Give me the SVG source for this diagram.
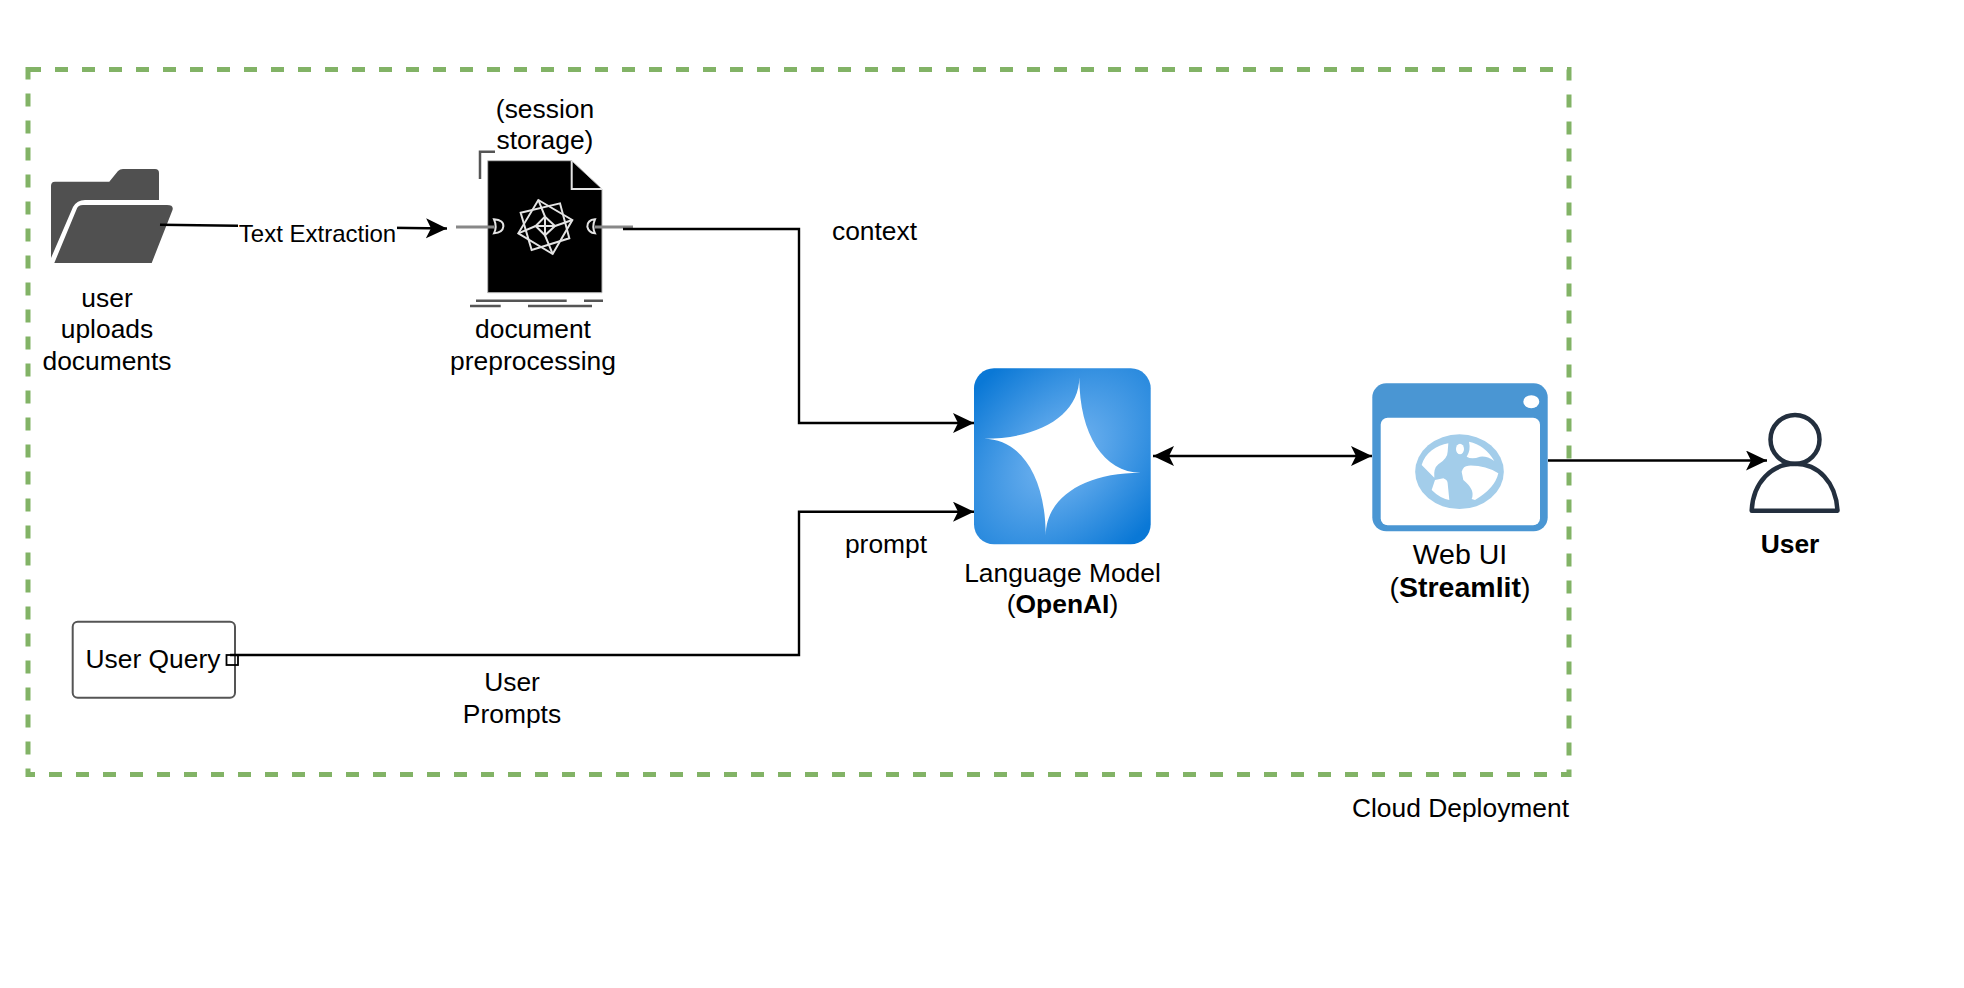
<svg xmlns="http://www.w3.org/2000/svg" width="1964" height="988" viewBox="0 0 1964 988">
<style>
text{font-family:"Liberation Sans",Arial,sans-serif;font-size:26.4px;fill:#000;text-anchor:middle}
.b{font-weight:700}
.c{fill:none;stroke:#000;stroke-width:2.4}
.g{fill:none;stroke:#555;stroke-width:2.5}
.w{fill:none;stroke:#e4e4e4;stroke-width:2}
</style>
<defs>
<marker id="a" markerUnits="userSpaceOnUse" markerWidth="24" markerHeight="22" refX="21" refY="10" orient="auto-start-reverse" viewBox="0 0 24 22"><path d="M0 0L21 10L0 20L5 10Z" fill="#000"/></marker>
<radialGradient id="lm" cx="0.5" cy="0.5" r="0.62" gradientTransform="translate(.5 .5) rotate(-45) scale(1.5 1) translate(-.5 -.5)"><stop offset="0" stop-color="#7ab8f2"/><stop offset="1" stop-color="#0a78d6"/></radialGradient>
</defs>
<rect id="cloud-boundary" x="28" y="69.5" width="1541" height="705" fill="none" stroke="#82b366" stroke-width="5" stroke-dasharray="13 14"/>
<text x="1569" y="817" style="text-anchor:end">Cloud Deployment</text>
<g id="folder">
<path d="M55 181.7H109.3L118 171Q120 169 123 169H155Q159 169 159 173V200H85Q77 200 73 207L51 258V186Q51 181.7 55 181.7Z" fill="#505050"/>
<path d="M83 205H167Q174 205 172.5 210L151.7 263H54.3L76.7 209Q78 205 83 205Z" fill="#505050"/>
<text x="107" y="307">user</text><text x="107" y="338">uploads</text><text x="107" y="369.5">documents</text>
</g>
<g id="preprocessing">
<path class="g" d="M480 179V151.7H495"/>
<path d="M487.7 160.7H571.7L602 189V292.7H487.7Z" fill="#000" stroke="#bbb" stroke-width="1"/>
<path d="M571.7 160.7V189H602" fill="none" stroke="#e4e4e4" stroke-width="2"/>
<path d="M456 227H494" fill="none" stroke="#888" stroke-width="3"/>
<path d="M633 227H595" fill="none" stroke="#888" stroke-width="3"/>
<g class="w" transform="translate(480 180) scale(.3333)" style="stroke-width:6">
<path d="M42 118Q72 120 70 140Q68 158 42 160Q52 140 42 118Z"/>
<path d="M345 118Q322 120 322 140Q326 158 345 160Q335 140 345 118Z"/>
<path d="M175 60L277 120L218 222L115 160Z"/>
<path d="M122 98L240 70L268 175L155 210Z"/>
<path d="M175 60L195 110M277 120L225 138M218 222L195 166M115 160L167 138"/>
<path d="M195 110L225 138L195 166L167 138ZM195 110V166M167 138H225"/>
</g>
<path class="g" d="M476 300.7H566.7M584 300.7H603M470 306H500.7M528 306H592"/>
<text x="545" y="118">(session</text><text x="545" y="149">storage)</text>
<text x="533" y="338">document</text><text x="533" y="370">preprocessing</text>
</g>
<g id="language-model">
<rect x="974" y="368.3" width="176.7" height="176" rx="20" fill="url(#lm)"/>
<path d="M1079.3 377.3C1079.3 414.1 1041.2 438.7 984 438.7C1021 438.7 1045.7 477.5 1045.7 535.7C1045.7 497.9 1083.7 472.7 1140.7 472.7C1103.9 472.7 1079.3 434.5 1079.3 377.3Z" fill="#fff"/>
<text x="1062.5" y="581.5">Language Model</text>
<text x="1062.5" y="612.5">(<tspan class="b">OpenAI</tspan>)</text>
</g>
<g id="web-ui">
<rect x="1372.3" y="383.3" width="175.4" height="148" rx="14" fill="#4a96d3"/>
<rect x="1380.7" y="417.7" width="159.3" height="107.6" rx="7" fill="#fff"/>
<ellipse cx="1531.3" cy="401.7" rx="8" ry="6.5" fill="#fff"/>
<g transform="translate(1405 425) scale(.3333)">
<ellipse cx="163.5" cy="140" rx="133" ry="112" fill="#a3cdea"/>
<g fill="#fff">
<ellipse cx="165" cy="72" rx="12" ry="16"/>
<path d="M130 55C95 60 60 85 50 120L88 158Q85 130 100 118Q128 100 128 80Z"/>
<path d="M192 50Q240 60 268 108Q245 92 225 95Q200 105 185 95Q198 75 192 50Z"/>
<path d="M170 140Q175 122 190 122Q240 120 280 145Q270 190 210 225L200 222Q212 195 175 165Z"/>
<path d="M90 165L115 160Q128 165 128 175L133 225Q105 220 80 195Z"/>
</g>
</g>
<text x="1460" y="563.5" style="font-size:28.5px">Web UI</text>
<text x="1460" y="597" style="font-size:28.5px">(<tspan class="b">Streamlit</tspan>)</text>
</g>
<g id="user">
<circle cx="1795" cy="439.5" r="24.5" fill="none" stroke="#232f3e" stroke-width="4.5"/>
<path d="M1751.7 510.7C1753 482 1772 463.8 1795 463.8C1818 463.8 1836 482 1837.5 510.7Z" fill="none" stroke="#232f3e" stroke-width="4.5" stroke-linejoin="round"/>
<text class="b" x="1790" y="552.5">User</text>
</g>
<g id="user-query">
<rect x="72.7" y="621.7" width="162.3" height="76" rx="5" fill="#fff" stroke="#555" stroke-width="2"/>
<text x="153" y="668">User Query</text>
</g>
<g id="connectors">
<path class="c" d="M160 224.7L447 228.5" marker-end="url(#a)"/>
<rect x="238" y="218" width="159" height="30" fill="#fff"/>
<text x="317.5" y="242" style="font-size:24px">Text Extraction</text>
<path class="c" d="M623 229H799V423H974" marker-end="url(#a)"/>
<path class="c" d="M230 655H799V511.7H974" marker-end="url(#a)"/>
<rect x="226.5" y="655" width="11.5" height="10" fill="none" stroke="#000" stroke-width="1.8"/>
<path class="c" d="M1153 456H1372" marker-start="url(#a)" marker-end="url(#a)"/>
<path class="c" d="M1548 460.5H1767" marker-end="url(#a)"/>
<text x="874.5" y="240">context</text>
<text x="886" y="553">prompt</text>
<text x="512" y="691">User</text><text x="512" y="723">Prompts</text>
</g>
</svg>
